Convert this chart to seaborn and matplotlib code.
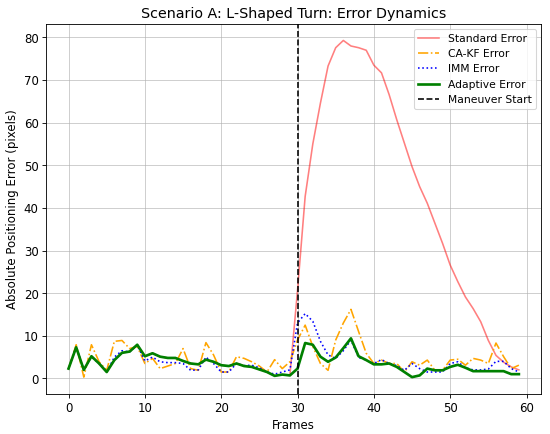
import numpy as np
import seaborn as sns
import matplotlib.pyplot as plt

frames = np.arange(60)

adaptive_err = [2.3, 7.3, 2.0, 5.2, 3.5, 1.5, 4.3, 6.0, 6.3, 7.9,
                5.2, 5.9, 5.1, 4.8, 4.8, 4.1, 3.5, 3.3, 4.4, 3.9,
                3.1, 2.9, 3.5, 2.9, 2.7, 2.1, 1.5, 0.6, 0.9, 0.7,
                2.3, 8.3, 7.9, 5.1, 3.9, 4.9, 7.1, 9.4, 5.2, 4.3,
                3.3, 3.3, 3.5, 2.7, 1.5, 0.3, 0.7, 2.3, 1.9, 1.9,
                2.7, 3.2, 2.5, 1.7, 1.7, 1.7, 1.7, 1.7, 1.0, 1.0]

cakf_err = [2.3, 7.9, 0.3, 7.9, 3.9, 1.9, 8.7, 8.9, 7.0, 7.5,
            3.5, 4.7, 2.3, 2.9, 3.5, 7.0, 2.3, 1.9, 8.4, 5.5,
            1.5, 1.5, 5.1, 4.7, 3.9, 2.9, 1.5, 4.4, 2.3, 3.9,
            9.0, 12.5, 7.5, 3.5, 1.9, 9.0, 13.0, 16.2, 11.0, 5.9,
            3.5, 4.3, 3.5, 3.5, 1.5, 3.9, 3.1, 4.3, 1.9, 1.9,
            4.3, 4.5, 3.1, 4.7, 4.3, 3.5, 8.3, 5.1, 2.3, 3.1]

imm_err = [2.3, 7.5, 2.0, 5.0, 3.5, 1.5, 5.0, 6.5, 6.2, 7.8,
           4.1, 5.0, 3.9, 3.7, 3.7, 3.5, 1.9, 2.0, 5.0, 3.5,
           1.5, 1.5, 3.5, 3.0, 3.1, 2.5, 1.5, 1.0, 1.5, 2.0,
           13.0, 15.2, 13.4, 8.7, 5.5, 4.7, 6.5, 9.0, 4.9, 4.3,
           3.5, 4.4, 3.5, 3.0, 1.9, 3.5, 2.3, 1.5, 1.5, 1.5,
           3.5, 3.9, 2.5, 2.0, 2.0, 2.2, 4.0, 4.0, 2.3, 1.5]

standard_err = adaptive_err[:30] + [
    20.7, 42.7, 55.0, 64.6, 73.3, 77.6, 79.3, 78.0, 77.6, 77.0,
    73.5, 71.7, 66.6, 60.7, 55.2, 49.7, 45.0, 41.1, 36.4, 31.7,
    26.6, 22.7, 19.1, 16.4, 13.3, 8.9, 5.4, 3.8, 2.7, 2.0]

maneuver_frame = 30

plt.rcParams['font.size'] = 11

fig = plt.figure(figsize=(550.4 / 77, 434.4 / 77), dpi=77)
sns.lineplot(x=frames, y=standard_err, label='Standard Error', color='red', alpha=0.5)
sns.lineplot(x=frames, y=cakf_err, label='CA-KF Error', color='orange', linestyle='-.')
sns.lineplot(x=frames, y=imm_err, label='IMM Error', color='blue', linestyle=':')
sns.lineplot(x=frames, y=adaptive_err, label='Adaptive Error', color='green', linewidth=2.5)
plt.axvline(maneuver_frame, color='black', linestyle='--', label='Maneuver Start')
plt.title('Scenario A: L-Shaped Turn: Error Dynamics', fontsize=13.3)
plt.xlabel('Frames')
plt.ylabel('Absolute Positioning Error (pixels)')
plt.legend(loc='upper right', fontsize=10)
plt.grid(True, alpha=0.7)
fig.subplots_adjust(left=46 / 550, right=541 / 550, top=1 - 24 / 434, bottom=1 - 394 / 434)
plt.savefig('out.png', dpi=77)
